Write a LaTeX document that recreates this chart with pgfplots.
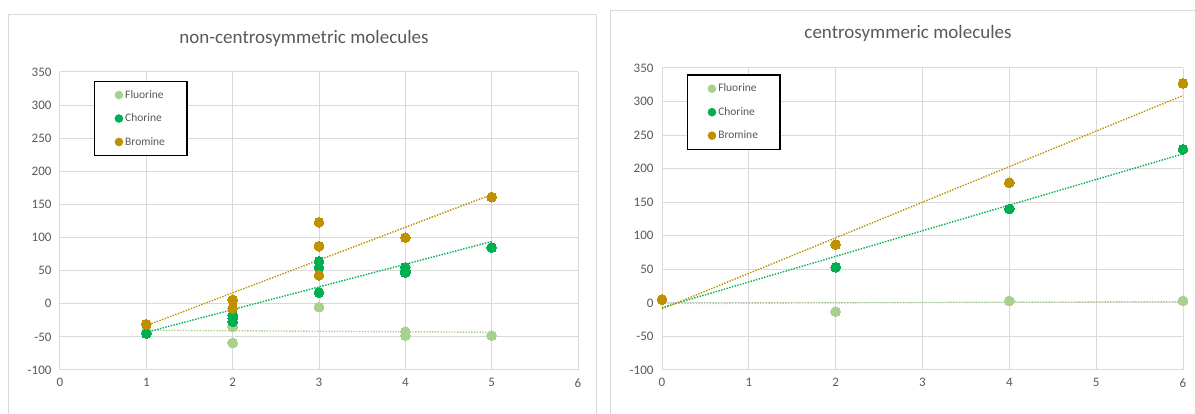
\documentclass[border=0pt]{standalone}
\usepackage{pgfplots}
\pgfplotsset{compat=1.18}
\usepackage{fontspec}
\setmainfont{Carlito}
\definecolor{fl}{HTML}{A9D18E}
\definecolor{cl}{HTML}{00B050}
\definecolor{br}{HTML}{BF9000}
\definecolor{txt}{HTML}{595959}
\definecolor{grd}{HTML}{D9D9D9}
\pgfplotsset{
  base/.style={
    scale only axis,
    xmin=0, xmax=6, ymin=-100, ymax=350,
    xtick={0,1,...,6}, ytick={-100,-50,...,350},
    grid=major, major grid style={grd, line width=1pt},
    axis line style={draw=none},
    tick style={draw=none},
    ticklabel style={font=\fontsize{13}{15}\selectfont, text=txt},
    /pgf/number format/assume math mode=true,
    xticklabel style={yshift=-5pt},
    yticklabel style={xshift=-5pt},
    clip=false,
    legend cell align=left,
    legend style={draw=black, line width=1.3pt, fill=white,
      font=\fontsize{11.5}{13}\selectfont\color{txt},
      row sep=10pt, inner xsep=20pt, inner ysep=7pt,
      /tikz/every odd column/.append style={column sep=0pt}},
    legend image code/.code={\fill[draw=none] (0.45em,0pt) circle (4.3pt);},
  },
  pt/.style={only marks, color=#1, mark=*, mark size=4.9pt, mark options={draw=#1, fill=#1, line width=0pt}},
  tr/.style={forget plot, #1, line width=1.4pt, dash pattern=on 1.4pt off 1.4pt},
}
\begin{document}
\begin{tikzpicture}[x=1pt,y=1pt]
\path[use as bounding box] (0,0) rectangle (1195,414);
\draw[grd, line width=1pt] (8,0) -- (8,399.5) -- (596,399.5) -- (596,0);
\draw[grd, line width=1pt] (610.7,0) -- (610.7,403.3) -- (1196,403.3);

\begin{axis}[base, at={(60pt,44pt)}, anchor=south west, width=518pt, height=298pt,
  legend style={at={(0.0656,0.971)}, anchor=north west}]
\addplot[tr=fl] coordinates {(1,-40) (5,-43)};
\addplot[tr=cl] coordinates {(1,-43) (5,94)};
\addplot[tr=br] coordinates {(1,-33) (5,165)};
\addplot[pt=fl] coordinates {(1,-42) (2,-35) (2,-59) (3,-5) (4,-42) (4,-48) (5,-48)};
\addlegendentry{Fluorine}
\addplot[pt=cl] coordinates {(1,-45) (2,-17) (2,-22) (2,-27) (3,64) (3,55) (3,17) (4,55) (4,50) (4,47) (5,85)};
\addlegendentry{Chorine}
\addplot[pt=br] coordinates {(1,-31) (2,6) (2,-7) (3,123) (3,87) (3,43) (4,100) (5,161)};
\addlegendentry{Bromine}
\end{axis}

\begin{axis}[base, at={(662pt,44pt)}, anchor=south west, width=521pt, height=302pt,
  legend style={at={(0.048,0.979)}, anchor=north west}]
\addplot[tr=fl] coordinates {(0,-1) (6,2)};
\addplot[tr=cl] coordinates {(0,-7) (6,222)};
\addplot[tr=br] coordinates {(0,-9) (6,309)};
\addplot[pt=fl] coordinates {(0,5) (2,-13) (4,3) (6,3)};
\addlegendentry{Fluorine}
\addplot[pt=cl] coordinates {(0,5) (2,53) (4,140) (6,229)};
\addlegendentry{Chorine}
\addplot[pt=br] coordinates {(0,5) (2,87) (4,179) (6,327)};
\addlegendentry{Bromine}
\end{axis}

\node[text=txt, font=\fontsize{19}{22}\selectfont] at (304,376) {non-centrosymmetric molecules};
\node[text=txt, font=\fontsize{19}{22}\selectfont] at (908,381) {centrosymmeric molecules};
\end{tikzpicture}
\end{document}
